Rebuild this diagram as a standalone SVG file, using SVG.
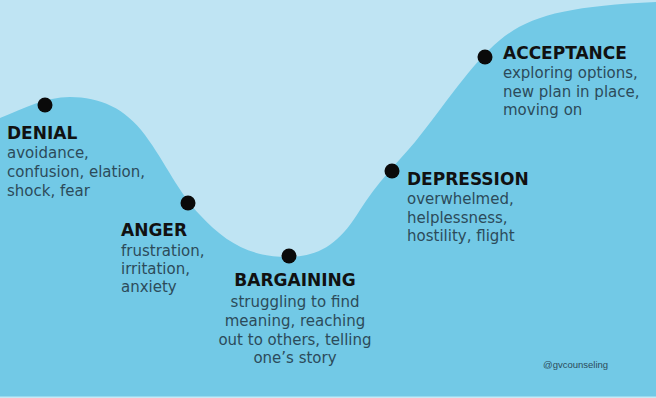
<svg xmlns="http://www.w3.org/2000/svg" width="656" height="398" viewBox="0 0 656 398">
<style>
.h{font-family:"DejaVu Sans",Verdana,sans-serif;font-weight:bold;font-size:17px;fill:#111}
.b{font-family:"DejaVu Sans",Verdana,sans-serif;font-size:15px;fill:#2c4b5a}
.c{text-anchor:middle}
.dot{fill:#0a0a0a}
.wm{font-family:"Liberation Sans",Arial,sans-serif;font-size:9.5px;fill:#2c4b5a}
</style>
<rect width="656" height="398" fill="#bfe4f3"/>
<g id="wave">
<path fill="#72c9e6" d="M0,118 C25,108 45,97 70,97 C100,97 125,108 145,135 C165,162 180,195 200,215 C225,242 250,257 287,257 C320,257 340,243 360,210 C378,182 395,165 415,142 C445,105 470,65 500,40 C530,15 570,6 656,2 L656,398 L0,398 Z"/>
<rect x="0" y="396.5" width="656" height="1.5" fill="#c6eaf5"/>
</g>
<g id="denial">
<circle class="dot" cx="45" cy="105" r="7.5"/>
<text class="h" x="7" y="139">DENIAL</text>
<text class="b" x="7" y="158">avoidance,</text>
<text class="b" x="7" y="177">confusion, elation,</text>
<text class="b" x="7" y="195.5">shock, fear</text>
</g>
<g id="anger">
<circle class="dot" cx="188" cy="203" r="7.5"/>
<text class="h" x="121" y="236">ANGER</text>
<text class="b" x="121" y="256">frustration,</text>
<text class="b" x="121" y="274">irritation,</text>
<text class="b" x="121" y="292">anxiety</text>
</g>
<g id="bargaining">
<circle class="dot" cx="289" cy="256" r="7.5"/>
<text class="h c" x="295" y="286">BARGAINING</text>
<text class="b c" x="295" y="307">struggling to find</text>
<text class="b c" x="295" y="326">meaning, reaching</text>
<text class="b c" x="295" y="345">out to others, telling</text>
<text class="b c" x="295" y="363">one’s story</text>
</g>
<g id="depression">
<circle class="dot" cx="392" cy="171" r="7.5"/>
<text class="h" x="407" y="185">DEPRESSION</text>
<text class="b" x="407" y="204">overwhelmed,</text>
<text class="b" x="407" y="223">helplessness,</text>
<text class="b" x="407" y="241">hostility, flight</text>
</g>
<g id="acceptance">
<circle class="dot" cx="485" cy="57" r="7.5"/>
<text class="h" x="503" y="59">ACCEPTANCE</text>
<text class="b" x="503" y="78">exploring options,</text>
<text class="b" x="503" y="96.5">new plan in place,</text>
<text class="b" x="503" y="115">moving on</text>
</g>
<g id="watermark">
<text class="wm" x="543" y="368">@gvcounseling</text>
</g>
</svg>
